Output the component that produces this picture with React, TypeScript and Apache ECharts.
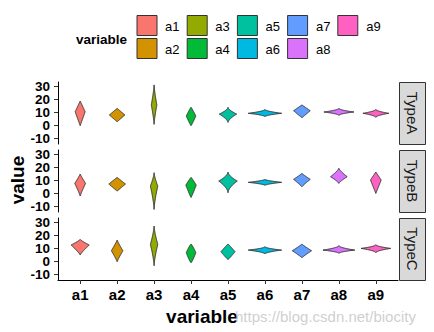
import React, { useEffect, useRef } from "react";
import * as echarts from "echarts";

const categories = ["a1", "a2", "a3", "a4", "a5", "a6", "a7", "a8", "a9"];
const facets = ["TypeA", "TypeB", "TypeC"];
const palette = ["#F8766D", "#D39200", "#93AA00", "#00BA38", "#00C19F", "#00B9E3", "#619CFF", "#DB72FB", "#FF61C3"];
const yTicks = [-10, 0, 10, 20, 30];
const xTicks = [1, 2, 3, 4, 5, 6, 7, 8, 9];

// per violin: [min, mode (widest), max, half width (x units), shape exponent]
const typeA = [
  [-0.1, 10.6, 18.8, 0.135, 1.0],
  [2.9, 8.1, 13.2, 0.21, 1.0],
  [0.9, 15.8, 31.2, 0.075, 1.3],
  [-0.1, 7.3, 14.0, 0.13, 0.9],
  [2.4, 8.8, 14.0, 0.235, 1.6],
  [6.8, 9.4, 12.4, 0.45, 1.8],
  [6.0, 11.4, 15.8, 0.225, 1.0],
  [7.8, 10.4, 13.2, 0.405, 1.8],
  [6.3, 9.4, 12.4, 0.35, 1.8],
];
const typeB = [
  [-1.9, 7.8, 15.0, 0.145, 1.1],
  [1.9, 7.3, 12.4, 0.225, 1.0],
  [-12.2, 5.8, 16.0, 0.1, 1.4],
  [-3.0, 6.5, 12.4, 0.14, 0.9],
  [0.6, 9.6, 16.5, 0.25, 1.7],
  [6.3, 8.6, 10.9, 0.45, 1.6],
  [5.2, 10.9, 15.5, 0.225, 1.1],
  [7.8, 12.9, 19.4, 0.225, 1.3],
  [0.1, 10.4, 16.5, 0.145, 1.0],
];
const typeC = [
  [5.0, 12.7, 17.0, 0.245, 1.2],
  [-0.1, 8.3, 16.5, 0.155, 1.1],
  [-3.2, 13.2, 27.3, 0.1, 1.4],
  [-0.9, 6.8, 13.4, 0.13, 0.8],
  [1.6, 7.5, 13.4, 0.19, 0.9],
  [5.8, 8.8, 11.4, 0.45, 1.8],
  [2.9, 8.3, 13.4, 0.26, 1.1],
  [6.3, 8.8, 12.2, 0.43, 1.8],
  [6.8, 10.1, 12.9, 0.4, 1.8],
];
const facetData = [typeA, typeB, typeC];

const FONT = "'Liberation Sans', Arial, sans-serif";
const GRID_LEFT = 58;
const GRID_W = 340;
const GRID_H = 62;
const GRID_TOPS = [82, 150, 218];
const Y_MIN = -14.2;
const Y_MAX = 33.46;

function renderViolin(params: any, api: any) {
  const x = api.value(0);
  const lo = api.value(1);
  const mode = api.value(2);
  const hi = api.value(3);
  const w = api.value(4);
  const p = api.value(5);
  const N = 30;
  const prof: [number, number][] = [];
  for (let i = 0; i <= N; i++) {
    const y = hi - ((hi - mode) * i) / N;
    const t = hi === mode ? 0 : (y - mode) / (hi - mode);
    prof.push([y, w * Math.pow(Math.max(0, 1 - t), p)]);
  }
  for (let i = 1; i <= N; i++) {
    const y = mode - ((mode - lo) * i) / N;
    const t = mode === lo ? 0 : (mode - y) / (mode - lo);
    prof.push([y, w * Math.pow(Math.max(0, 1 - t), p)]);
  }
  const pts: number[][] = [];
  prof.forEach(([y, hw]) => pts.push(api.coord([x + hw, y])));
  for (let i = prof.length - 1; i >= 0; i--) {
    const [y, hw] = prof[i];
    pts.push(api.coord([x - hw, y]));
  }
  return {
    type: "polygon",
    shape: { points: pts },
    style: { fill: palette[params.dataIndex], stroke: "#333333", lineWidth: 1 },
  };
}

export default function App() {
  const ref = useRef<HTMLDivElement>(null);
  useEffect(() => {
    if (!ref.current) return;
    const chart = echarts.init(ref.current, null, { renderer: "svg" });
    const grids = GRID_TOPS.map((top) => ({ left: GRID_LEFT, top, width: GRID_W, height: GRID_H }));
    const xAxes = GRID_TOPS.map((_, i) => ({
      type: "value",
      gridIndex: i,
      min: 0.4,
      max: 9.6,
      show: i === 2,
      splitLine: { show: false },
      axisLine: { show: true, onZero: false, lineStyle: { color: "#000", width: 1 } },
      axisTick: { show: true, customValues: xTicks, length: 4, lineStyle: { color: "#333" } },
      axisLabel: {
        customValues: xTicks,
        formatter: (v: number) => categories[Math.round(v) - 1] ?? "",
        fontFamily: FONT,
        fontWeight: "bold",
        fontSize: 15,
        color: "#000",
        margin: 7,
        showMinLabel: true,
        showMaxLabel: true,
      },
    }));
    const yAxes = GRID_TOPS.map((_, i) => ({
      type: "value",
      gridIndex: i,
      min: Y_MIN,
      max: Y_MAX,
      splitLine: { show: false },
      axisLine: { show: true, onZero: false, lineStyle: { color: "#000", width: 1 } },
      axisTick: { show: false },
      axisLabel: { show: false },
    }));
    const series = facetData.map((rows, i) => ({
      type: "custom",
      xAxisIndex: i,
      yAxisIndex: i,
      clip: false,
      encode: { x: 0, y: [1, 2, 3] },
      renderItem: renderViolin,
      data: rows.map((r, j) => [xTicks[j], r[0], r[1], r[2], r[3], r[4]]),
    }));

    const graphics: any[] = [];
    // strips
    facets.forEach((name, i) => {
      graphics.push({
        type: "rect",
        shape: { x: 399.5, y: GRID_TOPS[i] + 0.5, width: 26, height: GRID_H },
        style: { fill: "#D9D9D9", stroke: "#333333", lineWidth: 1 },
      });
      graphics.push({
        type: "text",
        x: 412.5,
        y: GRID_TOPS[i] + GRID_H / 2,
        rotation: -Math.PI / 2,
        style: {
          text: name,
          fontFamily: FONT,
          fontSize: 15,
          fill: "#1A1A1A",
          textAlign: "center",
          textVerticalAlign: "middle",
        },
      });
    });
    // legend
    graphics.push({
      type: "text",
      x: 127,
      y: 39.5,
      style: {
        text: "variable",
        fontFamily: FONT,
        fontWeight: "bold",
        fontSize: 13.5,
        fill: "#000",
        textAlign: "right",
        textVerticalAlign: "middle",
      },
    });
    categories.forEach((c, i) => {
      const col = Math.floor(i / 2);
      const row = i % 2;
      graphics.push({
        type: "rect",
        shape: { x: 137 + 50.2 * col, y: 15.5 + 23 * row, width: 20, height: 20 },
        style: { fill: palette[i], stroke: "#333333", lineWidth: 1 },
      });
      graphics.push({
        type: "text",
        x: 165 + 50.3 * col,
        y: 26 + 23 * row,
        style: {
          text: c,
          fontFamily: FONT,
          fontSize: 13,
          fill: "#000",
          textAlign: "left",
          textVerticalAlign: "middle",
        },
      });
    });
    // axis titles
    graphics.push({
      type: "text",
      x: 202,
      y: 316,
      style: {
        text: "variable",
        fontFamily: FONT,
        fontWeight: "bold",
        fontSize: 19,
        fill: "#000",
        textAlign: "center",
        textVerticalAlign: "middle",
      },
    });
    graphics.push({
      type: "text",
      x: 17,
      y: 180,
      rotation: Math.PI / 2,
      style: {
        text: "value",
        fontFamily: FONT,
        fontWeight: "bold",
        fontSize: 19,
        fill: "#000",
        textAlign: "center",
        textVerticalAlign: "middle",
      },
    });
    // watermark
    graphics.push({
      type: "text",
      x: 235,
      y: 316,
      style: {
        text: "https://blog.csdn.net/biocity",
        fontFamily: FONT,
        fontSize: 15,
        fill: "rgba(190,190,190,0.75)",
        textAlign: "left",
        textVerticalAlign: "middle",
      },
    });

    chart.setOption({
      animation: false,
      backgroundColor: "#ffffff",
      grid: grids,
      xAxis: xAxes,
      yAxis: yAxes,
      series,
      graphic: graphics,
    });

    // y tick marks and labels placed through each y axis's own scale
    const tickGraphics: any[] = [];
    GRID_TOPS.forEach((_, i) => {
      yTicks.forEach((v) => {
        const py = chart.convertToPixel({ yAxisIndex: i } as any, v) as number;
        tickGraphics.push({
          type: "line",
          shape: { x1: GRID_LEFT - 4, y1: py, x2: GRID_LEFT, y2: py },
          style: { stroke: "#333333", lineWidth: 1 },
        });
        tickGraphics.push({
          type: "text",
          x: GRID_LEFT - 8,
          y: py,
          style: {
            text: String(v),
            fontFamily: FONT,
            fontWeight: "bold",
            fontSize: 13.5,
            fill: "#000",
            textAlign: "right",
            textVerticalAlign: "middle",
          },
        });
      });
    });
    chart.setOption({ graphic: graphics.concat(tickGraphics) });

    return () => chart.dispose();
  }, []);
  return (
    <div
      ref={ref}
      style={{ position: "fixed", left: 0, top: 0, width: 434, height: 332 }}
    />
  );
}
